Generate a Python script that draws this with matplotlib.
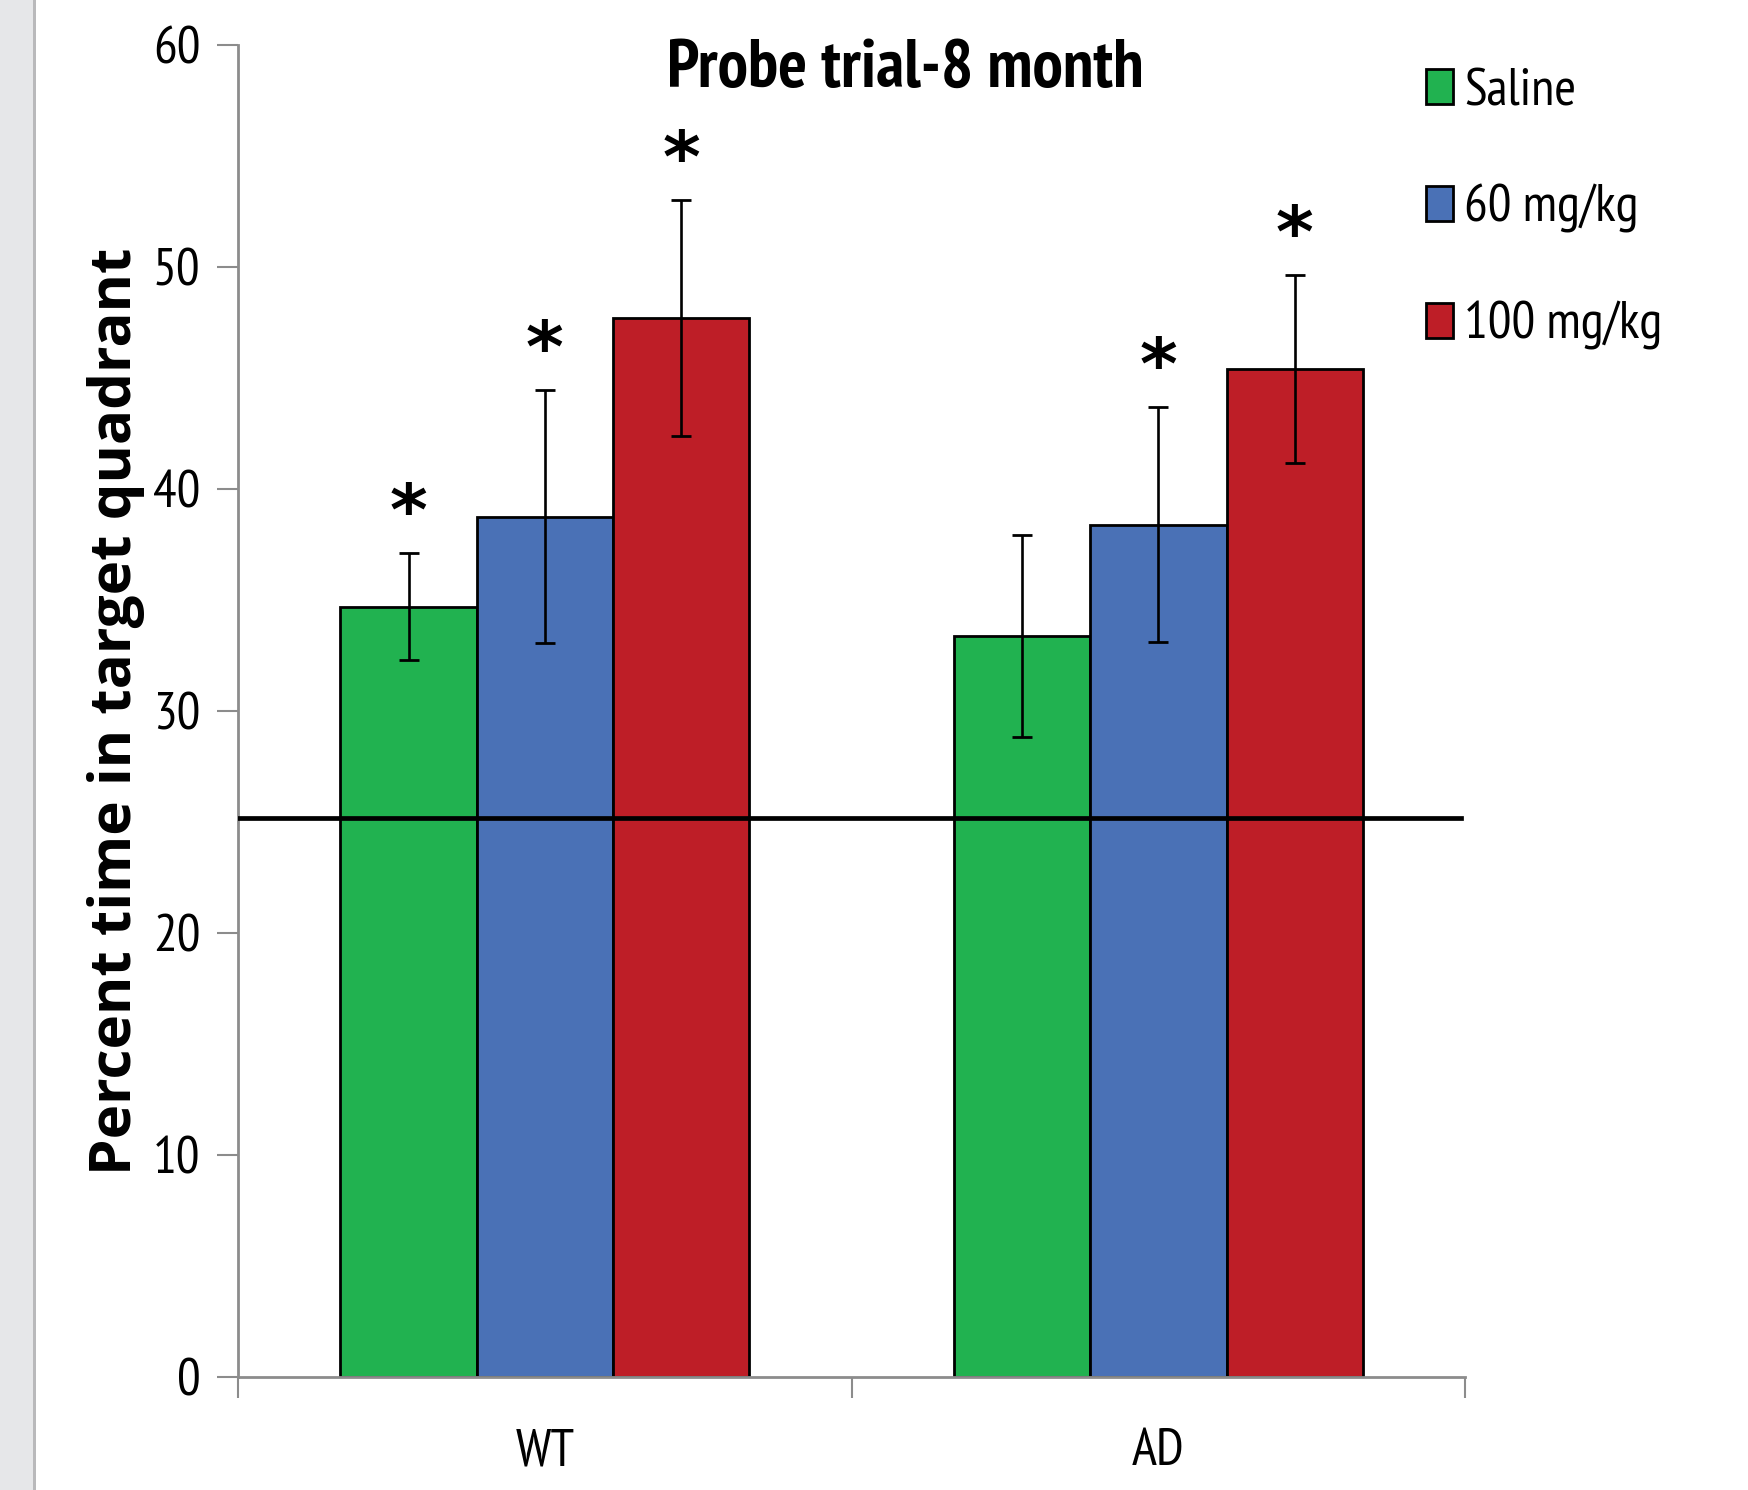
import numpy as np
import matplotlib
matplotlib.use("Agg")
import matplotlib.pyplot as plt
from matplotlib.patches import Rectangle

# data
groups = ["WT", "AD"]
treatments = ["Saline", "60 mg/kg", "100 mg/kg"]
colors = ["#21B250", "#4A71B6", "#BE1E27"]
means = {
    "Saline":    [34.7, 33.4],
    "60 mg/kg":  [38.75, 38.4],
    "100 mg/kg": [47.7, 45.4],
}
errors = {
    "Saline":    [2.4, 4.55],
    "60 mg/kg":  [5.7, 5.3],
    "100 mg/kg": [5.3, 4.25],
}
signif = {
    "Saline":    [True, False],
    "60 mg/kg":  [True, True],
    "100 mg/kg": [True, True],
}
chance_level = 25.2

plt.rcParams['font.family'] = ['PT Sans Narrow', 'Carlito', 'DejaVu Sans']

fig = plt.figure(figsize=(17.48, 14.90), dpi=100)
ax = fig.add_axes([0.1362, 0.0758, 0.8382 - 0.1362, 0.9698 - 0.0758])

# grey strip on the left edge
fig.patches.append(Rectangle((0, 0), 33 / 1748, 1, transform=fig.transFigure,
                             facecolor="#e6e7e9", edgecolor="none", zorder=0))
fig.patches.append(Rectangle((33 / 1748, 0), 3 / 1748, 1, transform=fig.transFigure,
                             facecolor="#b9b9bb", edgecolor="none", zorder=0))

x = np.arange(len(groups))
width = 2 / 9  # excel gap width 150%
for k, t in enumerate(treatments):
    pos = x + (k - 1) * width
    ax.bar(pos, means[t], width, color=colors[k], edgecolor="black", linewidth=2,
           label=t, zorder=2)
    ax.errorbar(pos, means[t], yerr=errors[t], fmt="none", ecolor="black",
                elinewidth=1.9, capsize=7, capthick=2, zorder=4)
    for p, m, e, s in zip(pos, means[t], errors[t], signif[t]):
        if s:
            ax.text(p, m + e + 1.7, "*", ha="center", va="center", fontsize=52,
                    fontweight="bold", family="DejaVu Sans", zorder=5)

ax.axhline(chance_level, xmin=0, xmax=0.997, color="black", linewidth=3.4, zorder=3)

ax.set_xlim(-0.5, 1.5)
ax.set_ylim(0, 60)
ax.set_yticks(np.arange(0, 61, 10))
ax.set_xticks([-0.5, 0.5, 1.5])
ax.set_xticklabels([])
ax.set_xticks(x, minor=True)
ax.set_xticklabels(groups, minor=True)
ax.tick_params(axis="x", which="minor", length=0, pad=37, labelsize=38)
ax.tick_params(axis="x", which="major", length=15, width=1.5, color="#8c8c8c", direction="out")
ax.tick_params(axis="y", length=15, width=1.5, color="#8c8c8c", pad=12, labelsize=38)

for side in ["top", "right"]:
    ax.spines[side].set_visible(False)
for side in ["left", "bottom"]:
    ax.spines[side].set_color("#8c8c8c")
    ax.spines[side].set_linewidth(2)

ax.set_ylabel("Percent time in target quadrant", fontsize=42, fontweight="bold",
              family=["Open Sans", "DejaVu Sans"], labelpad=6)
ax.set_title("Probe trial-8 month", fontsize=49, fontweight="bold", x=0.544, y=0.975,
             va="center")

fig.legend(loc="upper left", bbox_to_anchor=(1405 / 1748, 1 - 47 / 1490), frameon=False,
           fontsize=38, handlelength=0.5, handleheight=0.65, handletextpad=0.22,
           labelspacing=1.29, borderaxespad=0)

fig.savefig("out.png", dpi=100)
